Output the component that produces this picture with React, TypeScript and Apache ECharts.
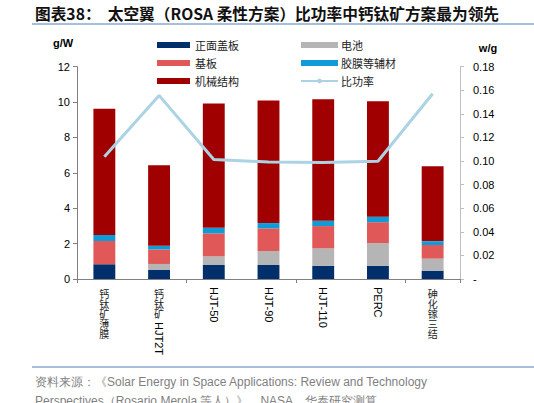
import React, { useEffect, useRef } from "react";
import * as echarts from "echarts";

const categories = ["钙钛矿薄膜", "钙钛矿HJT2T", "HJT-50", "HJT-90", "HJT-110", "PERC", "砷化镓三结"];
const frontCover = [0.83, 0.51, 0.79, 0.79, 0.75, 0.75, 0.47];
const cell = [0, 0.34, 0.49, 0.79, 0.98, 1.28, 0.68];
const substrate = [1.31, 0.82, 1.3, 1.28, 1.26, 1.18, 0.77];
const encapsulant = [0.34, 0.21, 0.31, 0.3, 0.3, 0.31, 0.22];
const mechanical = [7.14, 4.55, 7.03, 6.93, 6.86, 6.52, 4.23];
const specificPower = [0.1035, 0.1556, 0.1012, 0.0992, 0.0987, 0.0998, 0.157];

const CJK = "'Noto Sans CJK SC', sans-serif";
const LATIN = "'Liberation Sans', Arial, sans-serif";

function labelElements(name: string, x: number, top: number) {
  const els: any[] = [];
  const runs = name.match(/[\u4e00-\u9fff]+|[^\u4e00-\u9fff]+/g) || [];
  let y = top;
  let prevCjk = false;
  runs.forEach((run) => {
    const isCjk = /[\u4e00-\u9fff]/.test(run);
    if (isCjk) {
      const chars = Array.from(run);
      els.push({
        type: "text",
        x,
        y,
        style: {
          text: chars.join("\n"),
          font: `10px ${CJK}`,
          lineHeight: 10,
          fill: "#222",
          align: "center",
          verticalAlign: "top",
        },
      });
      y += 10 * chars.length;
      prevCjk = true;
    } else {
      if (prevCjk) y += 5;
      els.push({
        type: "text",
        x,
        y: y - 1,
        rotation: -Math.PI / 2,
        style: { text: run, font: `11px ${LATIN}`, fill: "#000", align: "left", verticalAlign: "middle" },
      });
      prevCjk = false;
    }
  });
  return els;
}

export default function App() {
  const ref = useRef<HTMLDivElement>(null);
  useEffect(() => {
    const chart = echarts.init(ref.current!, null, { renderer: "svg" });
    const barSeries = (name: string, data: number[], color: string) => ({
      name,
      type: "bar",
      stack: "total",
      data,
      barWidth: "40%",
      itemStyle: { color },
    });
    chart.setOption({
      animation: false,
      backgroundColor: "#fff",
      grid: { left: 77, right: 74, top: 66.6, bottom: 124 },
      legend: [
        {
          orient: "vertical",
          left: 152,
          top: 34,
          itemWidth: 33,
          itemHeight: 6,
          itemGap: 6,
          textStyle: { fontFamily: CJK, fontSize: 11, color: "#222", lineHeight: 12 },
          data: [
            { name: "正面盖板", icon: "rect" },
            { name: "基板", icon: "rect" },
            { name: "机械结构", icon: "rect" },
          ],
        },
        {
          orient: "vertical",
          left: 295,
          top: 34,
          itemWidth: 37,
          itemHeight: 6,
          itemGap: 6,
          textStyle: { fontFamily: CJK, fontSize: 11, color: "#222", lineHeight: 12, padding: [0, 0, 0, -2] },
          data: [{ name: "电池", icon: "rect" }, { name: "胶膜等辅材", icon: "rect" }, { name: "比功率" }],
        },
      ],
      xAxis: {
        type: "category",
        data: categories,
        axisLine: { lineStyle: { color: "#808080", width: 1 } },
        axisTick: { show: true, length: 4, lineStyle: { color: "#808080" } },
        axisLabel: { show: false },
      },
      yAxis: [
        {
          type: "value",
          min: 0,
          max: 12,
          interval: 2,
          splitLine: { show: false },
          axisLine: { show: true, lineStyle: { color: "#7f7f7f" } },
          axisTick: { show: true, length: 4, lineStyle: { color: "#7f7f7f" } },
          axisLabel: { margin: 7, fontFamily: LATIN, fontSize: 11, color: "#000" },
        },
        {
          type: "value",
          min: 0,
          max: 0.18,
          interval: 0.02,
          position: "right",
          splitLine: { show: false },
          axisLine: { show: true, lineStyle: { color: "#bfbfbf" } },
          axisTick: { show: true, length: 4, lineStyle: { color: "#bfbfbf" } },
          axisLabel: {
            margin: 13,
            fontFamily: LATIN,
            fontSize: 11,
            color: "#000",
            formatter: (v: number) => (v === 0 ? "-" : v.toFixed(2)),
          },
        },
      ],
      series: [
        barSeries("正面盖板", frontCover, "#002f6c"),
        barSeries("电池", cell, "#b5b5b5"),
        barSeries("基板", substrate, "#e05858"),
        barSeries("胶膜等辅材", encapsulant, "#0f9bd7"),
        barSeries("机械结构", mechanical, "#a00000"),
        {
          name: "比功率",
          type: "line",
          yAxisIndex: 1,
          data: specificPower,
          symbol: "none",
          lineStyle: { color: "#abd3e3", width: 3 },
          itemStyle: { color: "#abd3e3" },
          z: 5,
        },
      ],
    });

    const labels: any[] = [];
    categories.forEach((c) => {
      const x = chart.convertToPixel({ xAxisIndex: 0 }, c) as number;
      labels.push(...labelElements(c, x, 288));
    });

    chart.setOption({
      graphic: [
        {
          type: "text",
          left: 35,
          top: 6,
          style: {
            text: "图表38：  太空翼（ROSA 柔性方案）比功率中钙钛矿方案最为领先",
            font: `bold 15.7px ${CJK}`,
            fill: "#111",
          },
        },
        { type: "line", shape: { x1: 32, y1: 24, x2: 534, y2: 24 }, style: { stroke: "#4f7fb8", lineWidth: 1 } },
        {
          type: "text",
          x: 63,
          y: 43,
          style: { text: "g/W", font: `bold 11px ${LATIN}`, fill: "#000", align: "center", verticalAlign: "middle" },
        },
        {
          type: "text",
          x: 488,
          y: 48,
          style: { text: "w/g", font: `bold 11px ${LATIN}`, fill: "#000", align: "center", verticalAlign: "middle" },
        },
        ...labels,
        { type: "line", shape: { x1: 32, y1: 367, x2: 534, y2: 367 }, style: { stroke: "#4f7fb8", lineWidth: 1 } },
        {
          type: "text",
          x: 35,
          y: 382,
          style: {
            text: "资料来源：《Solar Energy in Space Applications: Review and Technology",
            font: `12px ${LATIN}`,
            fill: "#7f7f7f",
            verticalAlign: "middle",
          },
        },
        {
          type: "text",
          x: 35,
          y: 401,
          style: {
            text: "Perspectives（Rosario Merola 等人）》，NASA，华泰研究测算",
            font: `12px ${LATIN}`,
            fill: "#7f7f7f",
            verticalAlign: "middle",
          },
        },
      ],
    });

    return () => chart.dispose();
  }, []);
  return (
    <div
      ref={ref}
      style={{ position: "fixed", left: 0, top: 0, width: 534, height: 403, background: "#fff" }}
    />
  );
}
